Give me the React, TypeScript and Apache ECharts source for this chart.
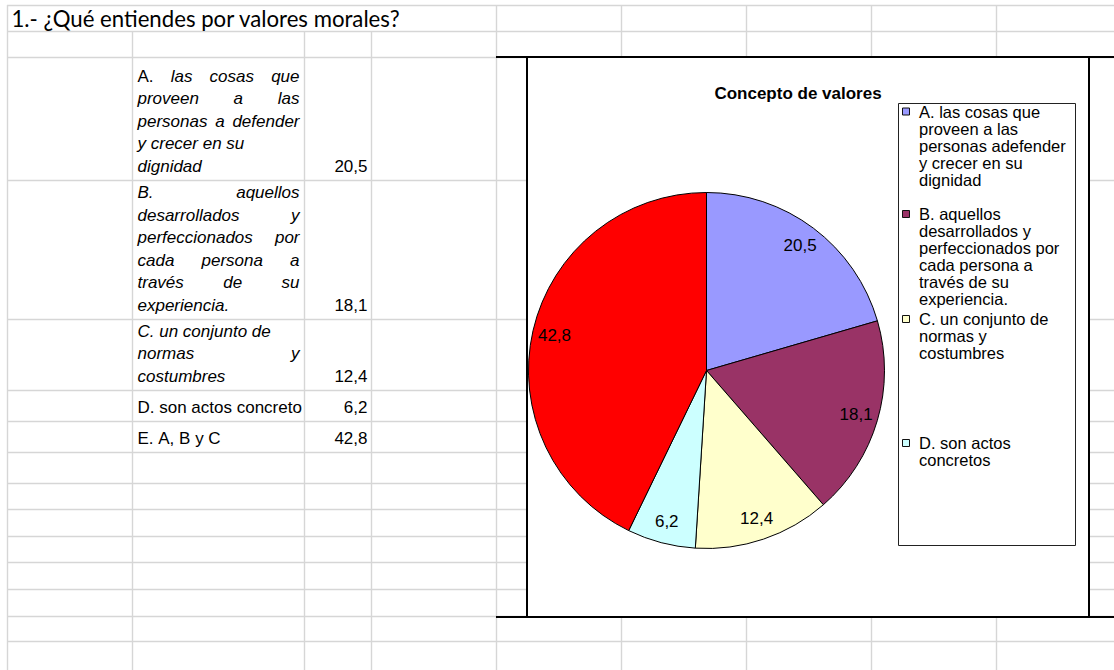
import React, { useEffect, useRef } from 'react';
import * as echarts from 'echarts';

const FONT = '"Liberation Sans", Arial, sans-serif';

// ---------- data ----------
const sheetTitle = '1.- ¿Qué entiendes por valores morales?';
const chartTitle = 'Concepto de valores';
const categoryNames = [
  'A. las cosas que proveen a las personas a defender y crecer en su dignidad',
  'B. aquellos desarrollados y perfeccionados por cada persona a través de su experiencia.',
  'C. un conjunto de normas y costumbres',
  'D. son actos concretos',
  'E. A, B y C',
];
const values = [20.5, 18.1, 12.4, 6.2, 42.8];
const sliceColors = ['#9999FF', '#993366', '#FFFFCC', '#CCFFFF', '#FF0000'];
const fmt = (v: number) => v.toFixed(1).replace('.', ',');

// legend entries as drawn in the chart (E is not shown in the original legend)
const legendLines = [
  ['A. las cosas que', 'proveen a las', 'personas adefender', 'y crecer en su', 'dignidad'],
  ['B. aquellos', 'desarrollados y', 'perfeccionados por', 'cada persona a', 'través de su', 'experiencia.'],
  ['C. un conjunto de', 'normas y', 'costumbres'],
  ['D. son actos', 'concretos'],
];

// table cells: [word, italic]
type Word = [string, boolean];
type Line = { words: Word[]; justify: boolean };
const tableLines: Line[][] = [
  [
    { words: [['A.', false], ['las', true], ['cosas', true], ['que', true]], justify: true },
    { words: [['proveen', true], ['a', true], ['las', true]], justify: true },
    { words: [['personas', true], ['a', true], ['defender', true]], justify: true },
    { words: [['y', true], ['crecer', true], ['en', true], ['su', true]], justify: false },
    { words: [['dignidad', true]], justify: false },
  ],
  [
    { words: [['B.', true], ['aquellos', true]], justify: true },
    { words: [['desarrollados', true], ['y', true]], justify: true },
    { words: [['perfeccionados', true], ['por', true]], justify: true },
    { words: [['cada', true], ['persona', true], ['a', true]], justify: true },
    { words: [['través', true], ['de', true], ['su', true]], justify: true },
    { words: [['experiencia.', true]], justify: false },
  ],
  [
    { words: [['C.', true], ['un', true], ['conjunto', true], ['de', true]], justify: false },
    { words: [['normas', true], ['y', true]], justify: true },
    { words: [['costumbres', true]], justify: false },
  ],
  [{ words: [['D.', false], ['son', false], ['actos', false], ['concreto', false]], justify: false }],
  [{ words: [['E.', false], ['A,', false], ['B', false], ['y', false], ['C', false]], justify: false }],
];

// ---------- layout ----------
const W = 1114;
const H = 670;
const colX = [7, 132, 304, 371, 496, 621, 746, 871, 996];
const rowY = [5, 31, 57, 180, 319, 390, 421, 452, 483, 509, 536, 562, 589, 616, 641];
const chartBox = { x: 527, y: 57, w: 562, h: 560 };
const pieCenter = [706.5, 370.5];
const pieR = 178;
const legendBox = { x: 898.5, y: 103.5, w: 177, h: 442 };
const legendFirstY = [111.5, 214, 319, 443];
const legendStep = 17;
const cellLeft = 137.5;
const cellRight = 299.5;
const numRight = 367.5;
const cellStep = 22.6;

function buildGraphic() {
  const els: any[] = [];
  const grid = '#d6d6d6';
  const hl = (x1: number, x2: number, y: number, stroke = grid, lw = 1.4, z = 0) =>
    els.push({ type: 'line', silent: true, z, shape: { x1, y1: y, x2, y2: y }, style: { stroke, lineWidth: lw } });
  const vl = (x: number, y1: number, y2: number, stroke = grid, lw = 1.4, z = 0) =>
    els.push({ type: 'line', silent: true, z, shape: { x1: x, y1, x2: x, y2 }, style: { stroke, lineWidth: lw } });

  // sheet grid
  rowY.forEach((y) => hl(7, W, y + 0.5));
  colX.forEach((x, i) => {
    const top = i >= 1 && i <= 3 ? rowY[1] : rowY[0];
    vl(x + 0.5, top, H);
  });

  // chart area
  els.push({
    type: 'rect', silent: true, z: 1,
    shape: { x: chartBox.x, y: chartBox.y, width: chartBox.w, height: chartBox.h },
    style: { fill: '#ffffff', stroke: '#000000', lineWidth: 2 },
  });
  hl(colX[4], W, chartBox.y, '#000000', 2, 1);
  hl(colX[4], W, chartBox.y + chartBox.h, '#000000', 2, 1);

  // legend
  els.push({
    type: 'rect', silent: true, z: 3,
    shape: { x: legendBox.x, y: legendBox.y, width: legendBox.w, height: legendBox.h },
    style: { fill: 'none', stroke: '#222222', lineWidth: 1 },
  });
  legendLines.forEach((lines, i) => {
    const y0 = legendFirstY[i];
    els.push({
      type: 'rect', silent: true, z: 4,
      shape: { x: 902.5, y: y0 - 3.5, width: 7, height: 7 },
      style: { fill: sliceColors[i], stroke: '#111111', lineWidth: 1 },
    });
    lines.forEach((t, k) => {
      els.push({
        type: 'text', silent: true, z: 4, x: 919, y: y0 + k * legendStep,
        style: {
          text: t, fill: '#000000', font: `16.5px ${FONT}`,
          textAlign: 'left', textVerticalAlign: 'middle', align: 'left', verticalAlign: 'middle',
        },
      });
    });
  });

  // sheet title
  els.push({
    type: 'text', silent: true, z: 2, x: 11.5, y: 18,
    style: {
      text: sheetTitle, fill: '#000000', font: `22.2px Lato, "Open Sans", sans-serif`,
      textAlign: 'left', textVerticalAlign: 'middle', align: 'left', verticalAlign: 'middle',
    },
  });

  // table cells
  const canvas = document.createElement('canvas');
  const ctx = canvas.getContext('2d') as CanvasRenderingContext2D;
  const fontOf = (it: boolean) => `${it ? 'italic ' : ''}17px ${FONT}`;
  const measure = (t: string, it: boolean) => {
    ctx.font = fontOf(it);
    return ctx.measureText(t).width;
  };
  tableLines.forEach((lines, r) => {
    const bottom = rowY[3 + r] - 13.5;
    const n = lines.length;
    lines.forEach((line, i) => {
      const y = bottom - (n - 1 - i) * cellStep;
      const widths = line.words.map(([t, it]) => measure(t, it));
      const total = widths.reduce((a, b) => a + b, 0);
      const justGap = line.words.length > 1 ? (cellRight - cellLeft - total) / (line.words.length - 1) : 0;
      let x = cellLeft;
      line.words.forEach(([t, it], k) => {
        els.push({
          type: 'text', silent: true, z: 2, x, y,
          style: {
            text: t, fill: '#000000', font: fontOf(it),
            textAlign: 'left', textVerticalAlign: 'middle', align: 'left', verticalAlign: 'middle',
          },
        });
        x += widths[k] + (line.justify ? justGap : measure(' ', it));
      });
    });
    els.push({
      type: 'text', silent: true, z: 2, x: numRight, y: bottom,
      style: {
        text: fmt(values[r]), fill: '#000000', font: `17px ${FONT}`,
        textAlign: 'right', textVerticalAlign: 'middle', align: 'right', verticalAlign: 'middle',
      },
    });
  });
  return els;
}

export default function App() {
  const ref = useRef<HTMLDivElement>(null);
  useEffect(() => {
    document.body.style.margin = '0';
    if (!ref.current) return;
    const chart = echarts.init(ref.current, undefined, { renderer: 'svg' });
    const data = categoryNames.map((name, i) => ({ name, value: values[i], itemStyle: { color: sliceColors[i] } }));
    chart.setOption({
      animation: false,
      backgroundColor: '#ffffff',
      title: {
        text: chartTitle,
        left: 798,
        top: 85,
        padding: 0,
        textAlign: 'center',
        textStyle: { fontFamily: FONT, fontSize: 17, fontWeight: 'bold', color: '#000000' },
      },
      graphic: { elements: buildGraphic() },
      series: [
        {
          type: 'pie',
          z: 2,
          center: pieCenter,
          radius: [0, pieR],
          startAngle: 90,
          clockwise: true,
          silent: true,
          label: { show: false },
          labelLine: { show: false },
          itemStyle: { borderColor: '#000000', borderWidth: 1 },
          data,
        },
        {
          type: 'pie',
          z: 3,
          center: pieCenter,
          radius: [128, pieR],
          startAngle: 90,
          clockwise: true,
          silent: true,
          itemStyle: { color: 'rgba(0,0,0,0)', borderWidth: 0 },
          label: {
            show: true,
            position: 'inside',
            formatter: (p: any) => fmt(p.value),
            fontFamily: FONT,
            fontSize: 17,
            color: '#000000',
          },
          labelLine: { show: false },
          data: categoryNames.map((name, i) => ({ name, value: values[i] })),
        },
      ],
    });
    return () => chart.dispose();
  }, []);
  return (
    <div
      ref={ref}
      style={{ position: 'absolute', left: 0, top: 0, width: W, height: H, background: '#ffffff' }}
    />
  );
}
